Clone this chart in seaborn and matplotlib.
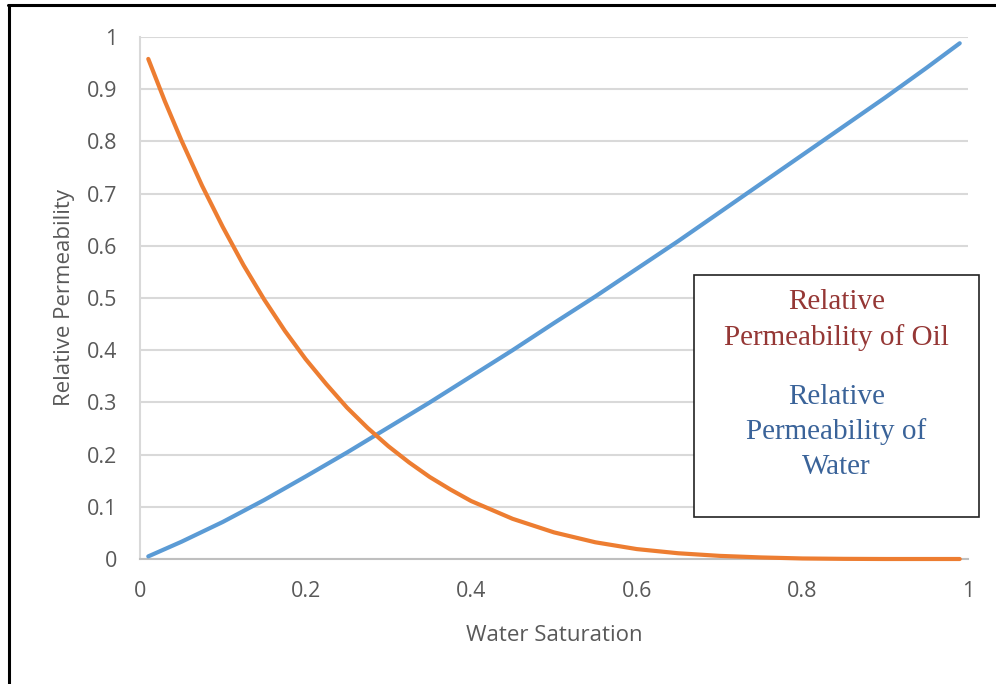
import matplotlib
matplotlib.use("Agg")
import matplotlib.pyplot as plt
from matplotlib.lines import Line2D
from matplotlib.patches import Rectangle
import pandas as pd
import seaborn as sns

# Water saturation vs relative permeability of oil
sw_oil = [0.01, 0.03, 0.05, 0.075, 0.10, 0.125, 0.15, 0.175, 0.20, 0.225, 0.25,
          0.275, 0.30, 0.325, 0.35, 0.375, 0.40, 0.45, 0.50, 0.55, 0.60, 0.65,
          0.70, 0.75, 0.80, 0.85, 0.90, 0.99]
kr_oil = [0.958, 0.877, 0.802, 0.715, 0.636, 0.563, 0.497, 0.437, 0.383, 0.335, 0.290,
          0.251, 0.216, 0.185, 0.157, 0.133, 0.111, 0.077, 0.051, 0.032, 0.019, 0.011,
          0.006, 0.003, 0.001, 0.0003, 0.0, 0.0]

# Water saturation vs relative permeability of water
sw_water = [0.01, 0.05, 0.10, 0.15, 0.20, 0.25, 0.30, 0.35, 0.40, 0.45, 0.50,
            0.55, 0.60, 0.65, 0.70, 0.75, 0.80, 0.85, 0.90, 0.95, 0.99]
kr_water = [0.005, 0.033, 0.071, 0.113, 0.158, 0.204, 0.252, 0.300, 0.350, 0.400, 0.452,
            0.503, 0.556, 0.609, 0.664, 0.719, 0.774, 0.829, 0.884, 0.941, 0.988]

x_ticks = [0, 0.2, 0.4, 0.6, 0.8, 1]
x_tick_labels = ["0", "0.2", "0.4", "0.6", "0.8", "1"]
y_ticks = [0, 0.1, 0.2, 0.3, 0.4, 0.5, 0.6, 0.7, 0.8, 0.9, 1]
y_tick_labels = ["0", "0.1", "0.2", "0.3", "0.4", "0.5", "0.6", "0.7", "0.8", "0.9", "1"]

oil = pd.DataFrame({"sw": sw_oil, "kr": kr_oil})
water = pd.DataFrame({"sw": sw_water, "kr": kr_water})

sns.set_theme(style="white")
plt.rcParams["font.family"] = ["Open Sans", "DejaVu Sans"]

W, H = 996, 684
fig = plt.figure(figsize=(W / 100, H / 100), dpi=100)
ax = fig.add_axes([140 / W, 1 - 559 / H, (968 - 140) / W, (559 - 37) / H])

sns.lineplot(data=water, x="sw", y="kr", ax=ax, color="#5B9BD5", lw=3,
             solid_capstyle="round", solid_joinstyle="round", zorder=3)
sns.lineplot(data=oil, x="sw", y="kr", ax=ax, color="#ED7D31", lw=3,
             solid_capstyle="round", solid_joinstyle="round", zorder=4)
for ln in ax.get_lines():
    ln.set_clip_on(False)

ax.set_xlim(0, 1)
ax.set_ylim(0, 1)
ax.set_xticks(x_ticks)
ax.set_xticklabels(x_tick_labels)
ax.set_yticks(y_ticks)
ax.set_yticklabels(y_tick_labels)
ax.tick_params(axis="both", length=0, labelsize=15.5, labelcolor="#595959")
ax.tick_params(axis="y", pad=16.5)
ax.tick_params(axis="x", pad=15.5)

ax.yaxis.grid(True, color="#d9d9d9", lw=1.5)
ax.xaxis.grid(False)
ax.set_axisbelow(True)
for side in ("top", "right"):
    ax.spines[side].set_visible(False)
ax.spines["left"].set_color("#d9d9d9")
ax.spines["left"].set_linewidth(1.5)
ax.spines["bottom"].set_color("#bfbfbf")
ax.spines["bottom"].set_linewidth(1.5)

ax.set_xlabel("Water Saturation", fontsize=16, color="#595959", labelpad=17)
ax.set_ylabel("Relative Permeability", fontsize=16, color="#595959", labelpad=8)

# Annotation box naming the two curves
bx0, by0, bx1, by1 = 694, 275, 979, 517
fig.patches.append(Rectangle((bx0 / W, 1 - by1 / H), (bx1 - bx0) / W, (by1 - by0) / H,
                             transform=fig.transFigure, facecolor="white",
                             edgecolor="#222222", lw=1.2, zorder=5))
cx = (bx0 + bx1) / 2 / W
serif = ["Liberation Serif", "DejaVu Serif"]
for text, yc, col in [("Relative", 302, "#953735"),
                      ("Permeability of Oil", 338, "#953735"),
                      ("Relative", 397, "#3A6399"),
                      ("Permeability of", 432, "#3A6399"),
                      ("Water", 467, "#3A6399")]:
    fig.text(cx, 1 - yc / H, text, ha="center", va="center", fontsize=21,
             color=col, family=serif, zorder=6)

# Outer frame edges along the left and top
fig.add_artist(Line2D([9 / W, 9 / W], [0, 1 - 5 / H], transform=fig.transFigure,
                      color="black", lw=2.2))
fig.add_artist(Line2D([8 / W, 1], [1 - 5 / H, 1 - 5 / H], transform=fig.transFigure,
                      color="black", lw=2.2))

fig.savefig("out.png", dpi=100, facecolor="white")
